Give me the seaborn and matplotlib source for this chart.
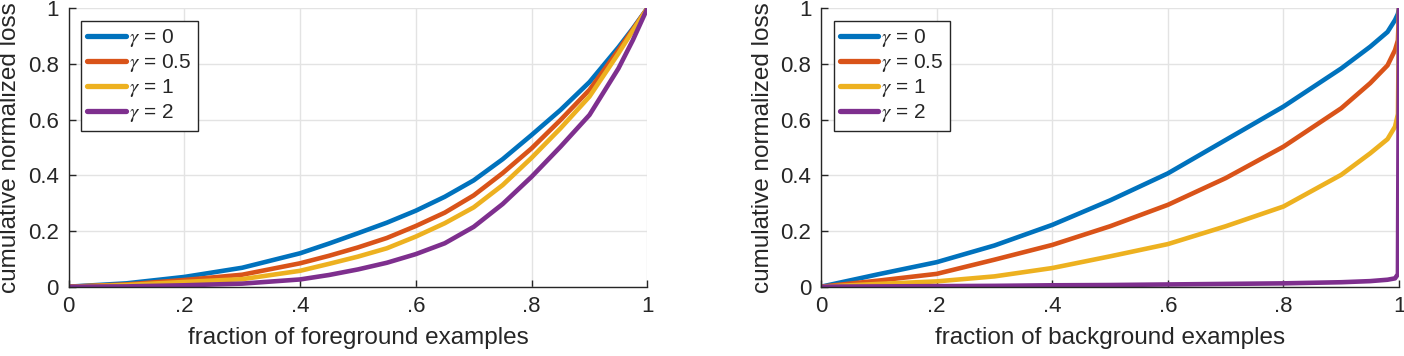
import numpy as np
import pandas as pd
import matplotlib
matplotlib.use('Agg')
import matplotlib.pyplot as plt
import seaborn as sns

# gamma values and colours (MATLAB default order)
gammas = ['0', '0.5', '1', '2']
colors = ['#0072BD', '#D95319', '#EDB120', '#7E2F8E']

# foreground examples
fg_x = [0, .1, .2, .3, .4, .45, .5, .55, .6, .65, .7, .75, .8, .85, .9, .95, .975, 1]
fg_g0 = [0, .012, .035, .068, .120, .155, .192, .230, .273, .323, .382, .458, .545, .635, .735, .860, .928, 1]
fg_g05 = [0, .008, .024, .043, .084, .111, .141, .175, .218, .266, .328, .408, .497, .599, .707, .850, .925, 1]
fg_g1 = [0, .006, .017, .027, .057, .082, .108, .138, .180, .228, .285, .365, .463, .569, .683, .838, .920, 1]
fg_g2 = [0, .001, .005, .011, .026, .042, .062, .086, .117, .156, .215, .297, .395, .503, .617, .784, .886, 1]

# background examples
bg_x = [0, .1, .2, .3, .4, .5, .6, .7, .8, .9, .95, .98, .993, .998, 1]
bg_g0 = [0, .045, .088, .148, .222, .310, .407, .527, .647, .784, .862, .915, .958, .980, 1]
bg_g05 = [0, .022, .046, .097, .150, .217, .294, .390, .503, .641, .731, .795, .850, .885, 1]
bg_g1 = [0, .010, .019, .037, .067, .109, .153, .217, .288, .402, .479, .530, .575, .620, 1]
bg_g2 = [0, .001, .002, .003, .005, .006, .008, .010, .012, .016, .020, .025, .030, .045, 1]

x_ticks = [0, .2, .4, .6, .8, 1]
x_ticklabels = ['0', '.2', '.4', '.6', '.8', '1']
y_ticks = [0, .2, .4, .6, .8, 1]
y_ticklabels = ['0', '0.2', '0.4', '0.6', '0.8', '1']


def to_long(x, series):
    rows = []
    for g, vals in zip(gammas, series):
        rows.append(pd.DataFrame({'frac': x, 'loss': vals, 'gamma': g}))
    return pd.concat(rows, ignore_index=True)


fg_df = to_long(fg_x, [fg_g0, fg_g05, fg_g1, fg_g2])
bg_df = to_long(bg_x, [bg_g0, bg_g05, bg_g1, bg_g2])

sns.set_theme(style='whitegrid')
plt.rcParams['font.family'] = ['Liberation Sans', 'DejaVu Sans']
plt.rcParams['mathtext.fontset'] = 'stix'
plt.rcParams['grid.color'] = '#e3e3e3'
plt.rcParams['axes.edgecolor'] = '#262626'

fig = plt.figure(figsize=(14.04, 3.56), dpi=100)
ax1 = fig.add_axes([0.0488, 0.1947, 0.4123, 0.782])
ax2 = fig.add_axes([0.5848, 0.1947, 0.4117, 0.782])

for ax, df, xlabel in [(ax1, fg_df, 'fraction of foreground examples'),
                       (ax2, bg_df, 'fraction of background examples')]:
    sns.lineplot(data=df, x='frac', y='loss', hue='gamma', hue_order=gammas,
                 palette=colors, linewidth=3.3, estimator=None, legend=False, ax=ax)
    for ln in ax.lines:
        ln.set_solid_joinstyle('round')
    ax.set_xlim(0, 1)
    ax.set_ylim(0, 1)
    ax.set_xticks(x_ticks)
    ax.set_xticklabels(x_ticklabels)
    ax.set_yticks(y_ticks)
    ax.set_yticklabels(y_ticklabels)
    ax.set_xlabel(xlabel, fontsize=17.5, color='#262626', labelpad=7)
    ax.set_ylabel('cumulative normalized loss', fontsize=17.5, color='#262626', labelpad=5)
    ax.tick_params(direction='in', length=5, width=1, labelsize=16,
                   colors='#262626', left=True, bottom=True, pad=7)
    sns.despine(ax=ax)
    for s in ['left', 'bottom']:
        ax.spines[s].set_linewidth(1)
    ax.grid(True, linewidth=1)
    leg = ax.legend(ax.lines, [r'$\gamma$ = ' + g for g in gammas],
                    loc='upper left', fontsize=15, frameon=True, fancybox=False,
                    edgecolor='#262626', framealpha=1, handlelength=1.85,
                    handletextpad=0.15, labelspacing=0.15, borderpad=0.3,
                    borderaxespad=0.6)
    leg.get_frame().set_linewidth(1)
    for h in leg.get_lines():
        h.set_linewidth(3.8)

fig.savefig('out.png', dpi=100)
